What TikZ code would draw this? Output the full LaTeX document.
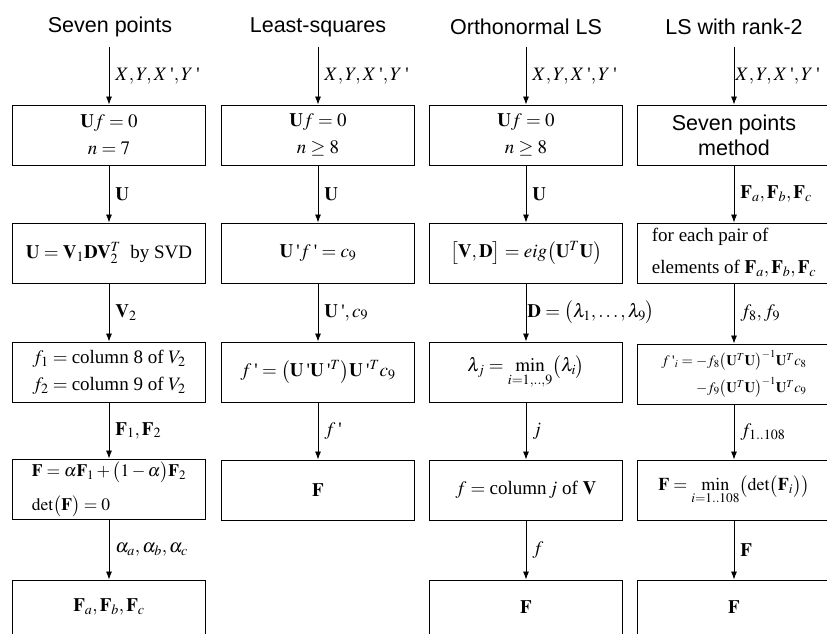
\documentclass[tikz,border=0pt]{standalone}
\usepackage{amsmath}
\usepackage{mathptmx}
\usepackage[no-math]{fontspec}
\setmainfont{Liberation Serif}
\newfontfamily\titlefont{Liberation Sans}
\usetikzlibrary{arrows.meta}
\newcommand\mathfnt{\fontsize{19}{27}\selectfont}
\newcommand\smallmathfnt{\fontsize{14.5}{27}\selectfont}
\newcommand\ttlfnt{\titlefont\fontsize{21.5}{25}\selectfont}
\newcommand\ap{\mbox{\,\textquotesingle}}
\begin{document}
\begin{tikzpicture}[x=1pt,y=-1pt,
  box/.style={draw, line width=0.9pt, minimum width=193pt, minimum height=60pt, inner sep=2pt, align=center, font=\mathfnt},
  flow/.style={draw, line width=0.8pt, -{Latex[length=8pt,width=6pt]}},
  lab/.style={right, inner xsep=6pt, font=\mathfnt},
  labc/.style={right, inner xsep=1pt, font=\mathfnt},
  ttl/.style={font=\ttlfnt}]
\clip (0,0) rectangle (827,634);
% titles
\node[ttl] (t1) at (110,27) {Seven points};
\node[ttl] (t2) at (318,27) {Least-squares};
\node[ttl] (t3) at (526,27) {Orthonormal LS};
\node[ttl] (t4) at (734,27) {LS with rank-2};
\coordinate (s1) at (109,47);
\coordinate (s2) at (318,47);
\coordinate (s3) at (526,47);
\coordinate (s4) at (734,47);
% column 1
\node[box] (a1) at (109,135) {$\mathbf{U}f=0$\\$n=7$};
\node[box] (a2) at (109,253) {$\mathbf{U}=\mathbf{V}_1\mathbf{D}\mathbf{V}_2^T$ ~by SVD};
\node[box] (a3) at (109,372) {$f_1=\text{column 8 of }V_2$\\$f_2=\text{column 9 of }V_2$};
\node[box, align=left, font=\fontsize{17.5}{34}\selectfont] (a4) at (109,489) {$\mathbf{F}=\alpha\mathbf{F}_1+\bigl(1-\alpha\bigr)\mathbf{F}_2$\\$\det\bigl(\mathbf{F}\bigr)=0$};
\node[box] (a5) at (109,610) {};
\node[font=\mathfnt] (a5t) at (109,607) {$\mathbf{F}_a,\mathbf{F}_b,\mathbf{F}_c$};
\draw[flow] (s1) -- node[lab] {$X,Y,X\ap,Y\ap$} (a1);
\draw[flow] (a1) -- node[lab] {$\mathbf{U}$} (a2);
\draw[flow] (a2) -- node[lab] {$\mathbf{V}_2$} (a3);
\draw[flow] (a3) -- node[lab] {$\mathbf{F}_1,\mathbf{F}_2$} (a4);
\draw[flow] (a4) -- node[lab] {$\alpha_a,\alpha_b,\alpha_c$} (a5);
% column 2
\node[box] (b1) at (318,135) {$\mathbf{U}f=0$\\$n\geq 8$};
\node[box] (b2) at (318,253) {$\mathbf{U}\ap f\ap=c_9$};
\node[box] (b3) at (318,372) {$f\ap=\bigl(\mathbf{U}\ap\mathbf{U}\ap^{T}\bigr)\mathbf{U}\ap^{T}c_9$};
\node[box] (b4) at (318,490) {$\mathbf{F}$};
\draw[flow] (s2) -- node[lab] {$X,Y,X\ap,Y\ap$} (b1);
\draw[flow] (b1) -- node[lab] {$\mathbf{U}$} (b2);
\draw[flow] (b2) -- node[lab] {$\mathbf{U}\ap,c_9$} (b3);
\draw[flow] (b3) -- node[lab] {$f\ap$} (b4);
% column 3
\node[box] (c1) at (526,135) {$\mathbf{U}f=0$\\$n\geq 8$};
\node[box] (c2) at (526,253) {$\bigl[\mathbf{V},\mathbf{D}\bigr]=eig\bigl(\mathbf{U}^T\mathbf{U}\bigr)$};
\node[box] (c3) at (526,372) {$\lambda_j=\min\limits_{i=1,..,9}\bigl(\lambda_i\bigr)$};
\node[box] (c4) at (526,490) {$f=\text{column}\,j\text{ of }\mathbf{V}$};
\node[box] (c5) at (526,610) {};
\node[font=\mathfnt] (c5t) at (526,607) {$\mathbf{F}$};
\draw[flow] (s3) -- node[lab] {$X,Y,X\ap,Y\ap$} (c1);
\draw[flow] (c1) -- node[lab] {$\mathbf{U}$} (c2);
\draw[flow] (c2) -- node[labc] {$\mathbf{D}=\bigl(\lambda_1,\ldots,\lambda_9\bigr)$} (c3);
\draw[flow] (c3) -- node[lab] {$j$} (c4);
\draw[flow] (c4) -- node[lab] {$f$} (c5);
% column 4
\node[box, font=\ttlfnt] (d1) at (734,135) {\raisebox{-3pt}{Seven points}\\\raisebox{-3pt}{method}};
\node[box, align=left, font=\fontsize{19}{32}\selectfont] (d2) at (734,253) {for each pair of\\elements of $\mathbf{F}_a,\mathbf{F}_b,\mathbf{F}_c$};
\node[box, align=right, font=\smallmathfnt] (d3) at (734,374) {$f\ap_i=-f_8\bigl(\mathbf{U}^T\mathbf{U}\bigr)^{-1}\mathbf{U}^Tc_8$\\$-f_9\bigl(\mathbf{U}^T\mathbf{U}\bigr)^{-1}\mathbf{U}^Tc_9$\hspace{5pt}};
\node[box, font=\fontsize{18}{27}\selectfont] (d4) at (734,490) {$\mathbf{F}=\min\limits_{i=1..108}\bigl(\det\bigl(\mathbf{F}_i\bigr)\bigr)$};
\node[box] (d5) at (734,610) {};
\node[font=\mathfnt] (d5t) at (734,607) {$\mathbf{F}$};
\draw[flow] (s4) -- node[labc] {$X,Y,X\ap,Y\ap$} (d1);
\draw[flow] (d1) -- node[lab] {$\mathbf{F}_a,\mathbf{F}_b,\mathbf{F}_c$} (d2);
\draw[flow] (d2) -- node[lab] {$f_8,f_9$} (d3);
\draw[flow] (d3) -- node[lab] {$f_{1..108}$} (d4);
\draw[flow] (d4) -- node[lab] {$\mathbf{F}$} (d5);
\end{tikzpicture}
\end{document}
